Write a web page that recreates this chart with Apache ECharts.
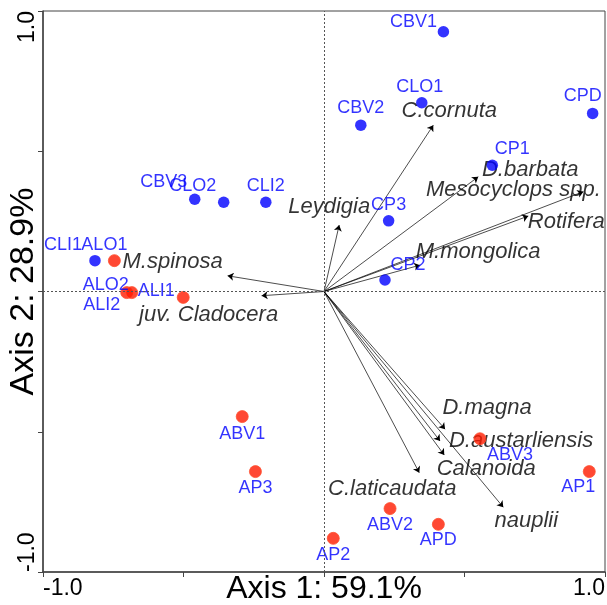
<!DOCTYPE html>
<html>
<head>
<meta charset="utf-8">
<script src="https://cdn.jsdelivr.net/npm/echarts@6/dist/echarts.min.js"></script>
<style>html,body{margin:0;padding:0;background:#fff}#c{width:607px;height:605px}</style>
</head>
<body>
<div id="c"></div>
<script>
// ---- data ----
const blueSites = ['CBV1','CLO1','CBV2','CPD','CP1','CP3','CP2','CBV3','CLO2','CLI2','CLI1'];
const blueX = [0.425, 0.348, 0.131, 0.956, 0.599, 0.230, 0.217, -0.460, -0.357, -0.207, -0.815];
const blueY = [0.926, 0.673, 0.593, 0.635, 0.450, 0.252, 0.041, 0.329, 0.318, 0.318, 0.110];

const redSites = ['ALO1','ALO2','ALI2','ALI1','ABV1','AP3','ABV3','AP1','ABV2','APD','AP2'];
const redX = [-0.746, -0.702, -0.684, -0.501, -0.291, -0.244, 0.555, 0.944, 0.235, 0.407, 0.033];
const redY = [0.110, -0.004, -0.004, -0.021, -0.446, -0.642, -0.525, -0.642, -0.774, -0.830, -0.880];

const species = ['C.cornuta','Leydigia','D.barbata','Mesocyclops spp.','Rotifera','M.mongolica','M.spinosa','juv. Cladocera','D.magna','D.austarliensis','Calanoida','C.laticaudata','nauplii'];
const speciesX = [0.389, 0.054, 0.549, 0.923, 0.727, 0.342, -0.343, -0.222, 0.431, 0.413, 0.428, 0.339, 0.638];
const speciesY = [0.593, 0.237, 0.409, 0.356, 0.269, 0.094, 0.056, -0.015, -0.491, -0.533, -0.583, -0.646, -0.769];

const tickValues = [-1, 1];
const tickTexts = ['-1.0', '1.0'];
const xTitle = 'Axis 1: 59.1%';
const yTitle = 'Axis 2: 28.9%';

// ---- label placement (style only) ----
const blueOffsets = [[-30,-10],[-2,-16],[0,-17],[-10,-17],[20,-16],[0,-16],[23,-15],[-31,-17],[-31,-16],[0,-16],[-32,-16]];
const redOffsets = [[-10,-16],[-21,-8],[-30,12],[-27,-6],[0,17],[0,16],[30,16],[-11,15],[0,16],[0,16],[0,17]];
const speciesOffsets = [[16,-14],[-10,-18],[52,-7],[-70,-2],[38,6],[58,-13],[-55,-14],[-53,19],[42,-21],[81,0],[42,14],[-27,16],[23,14]];

const FONT = 'Liberation Sans, Arial, sans-serif';

function tickFmt(v) {
  for (let i = 0; i < tickValues.length; i++) if (Math.abs(v - tickValues[i]) < 1e-9) return tickTexts[i];
  return '';
}

function sitePoints(names, xs, ys, offs) {
  return names.map((n, i) => ({
    name: n, value: [xs[i], ys[i]],
    label: { offset: offs[i] }
  }));
}

const chart = echarts.init(document.getElementById('c'), null, { renderer: 'canvas' });
chart.setOption({
  animation: false,
  backgroundColor: '#fff',
  grid: { left: 43, right: 2, top: 11, bottom: 33, show: true, borderColor: '#444', borderWidth: 1,
    containLabel: false, outerBoundsMode: 'none' },
  xAxis: {
    type: 'value', min: -1, max: 1, interval: 0.5,
    splitLine: { show: false },
    axisLine: { show: true, onZero: false, lineStyle: { color: '#444', width: 1.5 } },
    axisTick: { show: true, length: 5, lineStyle: { color: '#444' } },
    axisLabel: { formatter: tickFmt, fontSize: 23, color: '#000', fontFamily: FONT, margin: 5,
      alignMinLabel: 'left', alignMaxLabel: 'right', showMinLabel: true, showMaxLabel: true },
    name: xTitle, nameLocation: 'middle', nameGap: 1, nameMoveOverlap: false,
    nameTextStyle: { fontSize: 32, color: '#000', fontFamily: FONT }
  },
  yAxis: {
    type: 'value', min: -1, max: 1, interval: 0.5,
    splitLine: { show: false },
    axisLine: { show: true, onZero: false, lineStyle: { color: '#444', width: 1.5 } },
    axisTick: { show: true, length: 5, lineStyle: { color: '#444' } },
    axisLabel: { formatter: tickFmt, fontSize: 23, color: '#000', fontFamily: FONT, margin: 4, rotate: 90,
      alignMinLabel: 'left', alignMaxLabel: 'right', showMinLabel: true, showMaxLabel: true },
    name: yTitle, nameLocation: 'middle', nameGap: 2, nameMoveOverlap: false,
    nameTextStyle: { fontSize: 34, color: '#000', fontFamily: FONT }
  },
  series: [
    {
      type: 'lines', coordinateSystem: 'cartesian2d', z: 2,
      symbol: ['none', 'arrow'], symbolSize: [0, 6],
      lineStyle: { color: '#000', width: 0.7, opacity: 1, curveness: 0 },
      data: species.map((s, i) => ({ name: s, coords: [[0, 0], [speciesX[i], speciesY[i]]] })),
      markLine: {
        silent: true, symbol: 'none', label: { show: false },
        lineStyle: { type: [2, 2], color: '#555', width: 1 },
        data: [{ xAxis: 0 }, { yAxis: 0 }]
      }
    },
    {
      type: 'scatter', z: 3, symbolSize: 1,
      itemStyle: { color: 'rgba(0,0,0,0)' },
      label: { show: true, position: 'inside', formatter: '{b}', color: '#000', fontSize: 22,
        fontStyle: 'italic', fontFamily: FONT, align: 'center', verticalAlign: 'middle',
        textBorderWidth: 0 },
      data: species.map((s, i) => ({ name: s, value: [speciesX[i], speciesY[i]], label: { offset: speciesOffsets[i] } }))
    },
    {
      type: 'scatter', z: 4, symbolSize: 11.5,
      itemStyle: { color: '#0000ff' },
      label: { show: true, position: 'inside', formatter: '{b}', color: '#0000ff', fontSize: 18,
        fontFamily: FONT, align: 'center', verticalAlign: 'middle', textBorderWidth: 0 },
      data: sitePoints(blueSites, blueX, blueY, blueOffsets)
    },
    {
      type: 'scatter', z: 4, symbolSize: 12,
      itemStyle: { color: '#ff1a00', borderColor: '#ff5030', borderWidth: 1 },
      label: { show: true, position: 'inside', formatter: '{b}', color: '#0000ff', fontSize: 18,
        fontFamily: FONT, align: 'center', verticalAlign: 'middle', textBorderWidth: 0 },
      data: sitePoints(redSites, redX, redY, redOffsets)
    }
  ]
});
</script>
</body>
</html>
